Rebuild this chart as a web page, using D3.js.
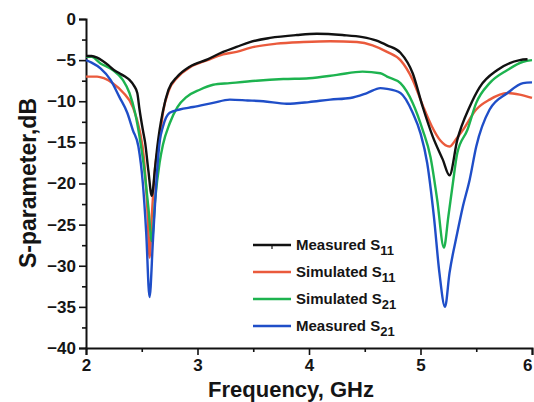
<!DOCTYPE html>
<html><head><meta charset="utf-8">
<script src="https://cdn.jsdelivr.net/npm/d3@7"></script>
<style>body{margin:0;background:#fff}svg{display:block}text{font-family:"Liberation Sans",Arial,sans-serif;font-weight:bold;fill:#151515}</style>
</head><body><div id="c"></div>
<script>
const xTicks=[2,3,4,5,6];
const yTicks=[-40,-35,-30,-25,-20,-15,-10,-5,0];
const measS11=[[2.0,-4.5],[2.05,-4.5],[2.1,-4.7],[2.15,-5.1],[2.2,-5.6],[2.25,-6.2],[2.3,-6.6],[2.35,-7.0],[2.39,-7.4],[2.43,-8.1],[2.46,-9.0],[2.48,-11],[2.51,-13.5],[2.53,-15],[2.56,-18.5],[2.59,-21.5],[2.62,-18],[2.64,-15.5],[2.66,-13.5],[2.69,-11.2],[2.74,-8.6],[2.82,-7.0],[2.93,-5.8],[3.09,-4.9],[3.23,-4.0],[3.35,-3.4],[3.47,-2.8],[3.65,-2.3],[3.89,-1.95],[4.07,-1.8],[4.3,-1.95],[4.48,-2.2],[4.6,-2.6],[4.7,-3.2],[4.82,-4.1],[4.93,-6.6],[5.02,-10.7],[5.11,-14.3],[5.2,-17.1],[5.26,-19],[5.33,-14.7],[5.44,-10.7],[5.53,-8.3],[5.69,-6.2],[5.89,-5.0],[5.96,-4.9]];
const simS11=[[2.0,-7.0],[2.1,-7.0],[2.16,-7.2],[2.24,-7.8],[2.33,-8.9],[2.42,-10.7],[2.48,-13.5],[2.52,-17],[2.55,-23],[2.57,-29],[2.59,-24],[2.62,-18],[2.66,-14.7],[2.69,-11.4],[2.74,-8.8],[2.82,-7.1],[2.93,-5.9],[3.09,-5.0],[3.23,-4.3],[3.35,-4.0],[3.47,-3.5],[3.71,-3.0],[3.95,-2.8],[4.19,-2.7],[4.43,-2.8],[4.57,-3.2],[4.7,-4.0],[4.82,-5.0],[4.93,-7.4],[5.02,-10.5],[5.1,-13],[5.18,-14.8],[5.26,-15.5],[5.32,-14.6],[5.38,-13.5],[5.5,-11],[5.62,-9.8],[5.78,-9.0],[5.89,-9.2],[6.0,-9.6]];
const simS21=[[2.0,-4.6],[2.05,-4.6],[2.13,-5.4],[2.24,-6.2],[2.33,-7.4],[2.39,-9],[2.44,-11.4],[2.48,-14.3],[2.52,-18],[2.56,-23],[2.59,-27],[2.62,-22],[2.66,-17.5],[2.69,-15.3],[2.75,-12.7],[2.82,-10.7],[2.9,-9.5],[3.02,-8.6],[3.14,-8.0],[3.29,-7.8],[3.53,-7.5],[3.77,-7.3],[4.0,-7.2],[4.25,-6.8],[4.48,-6.4],[4.64,-6.6],[4.7,-7.0],[4.82,-7.8],[4.93,-10.2],[5.02,-13.5],[5.09,-16.8],[5.15,-22],[5.21,-27.8],[5.25,-24],[5.29,-20],[5.33,-16.3],[5.42,-13.5],[5.5,-10.2],[5.62,-7.8],[5.78,-6.2],[5.92,-5.2],[6.0,-5.0]];
const measS21=[[2.0,-5.0],[2.05,-5.3],[2.13,-6.0],[2.22,-7.4],[2.3,-9.5],[2.37,-11.4],[2.42,-13.5],[2.47,-15.5],[2.51,-20],[2.54,-26],[2.57,-33.8],[2.6,-27],[2.63,-20],[2.66,-15],[2.69,-13.1],[2.75,-11.4],[2.84,-11],[2.96,-10.7],[3.14,-10.2],[3.29,-9.8],[3.45,-9.9],[3.59,-10.0],[3.8,-10.3],[4.0,-10.1],[4.19,-9.8],[4.37,-9.6],[4.52,-9.0],[4.64,-8.4],[4.7,-8.5],[4.82,-9.0],[4.93,-11.4],[5.0,-13.9],[5.06,-17.5],[5.12,-24],[5.17,-30.9],[5.22,-35],[5.26,-30.9],[5.33,-26],[5.38,-22.8],[5.44,-19.6],[5.5,-15.5],[5.62,-11],[5.78,-9.0],[5.92,-7.8],[6.0,-7.7]];
const legendNames=["Measured S","Simulated S","Simulated S","Measured S"];
const legendSubs=["11","11","21","21"];
const colors=["#111111","#ea5a3c","#1db34f","#1f4ec8"];
const seriesData=[measS11,simS11,simS21,measS21];

const W=534,H=402;
const svg=d3.select("#c").append("svg").attr("width",W).attr("height",H);
const x=d3.scaleLinear().domain([2,6]).range([86,532]);
const y=d3.scaleLinear().domain([-40,0]).range([348,19]);

// axes
const gx=svg.append("g").attr("transform","translate(0,348)")
 .call(d3.axisBottom(x).tickValues(xTicks).tickSize(7).tickPadding(4).tickFormat(d3.format("d")));
const gxm=svg.append("g").attr("transform","translate(0,348)")
 .call(d3.axisBottom(x).tickValues(d3.range(2.5,6,1)).tickSize(4).tickFormat(""));
const gy=svg.append("g").attr("transform","translate(86,0)")
 .call(d3.axisLeft(y).tickValues(yTicks).tickSize(7).tickPadding(3).tickFormat(d3.format("d")));
const gym=svg.append("g").attr("transform","translate(86,0)")
 .call(d3.axisLeft(y).tickValues(d3.range(-37.5,0,5)).tickSize(4).tickFormat(""));
[gx,gxm,gy,gym].forEach(g=>{g.select(".domain").attr("stroke","#111").attr("stroke-width",2);
 g.selectAll(".tick line").attr("stroke","#111").attr("stroke-width",1.6);
 g.selectAll("text").attr("font-size",17).attr("font-family","Liberation Sans, Arial, sans-serif").attr("font-weight","bold").attr("fill","#151515");});
gxm.select(".domain").remove();gym.select(".domain").remove();
gx.selectAll(".tick text").filter(d=>d===6).attr("text-anchor","end").attr("dx",0);

// lines
const line=d3.line().x(d=>x(d[0])).y(d=>y(d[1])).curve(d3.curveMonotoneX);
const order=[1,2,0,3];
order.forEach(i=>{svg.append("path").datum(seriesData[i]).attr("d",line)
 .attr("fill","none").attr("stroke",colors[i]).attr("stroke-width",2.4).attr("stroke-linejoin","round");});

// legend
const lg=svg.append("g");
legendNames.forEach((n,i)=>{const yy=245+i*27;
 lg.append("line").attr("x1",253).attr("x2",291).attr("y1",yy).attr("y2",yy).attr("stroke",colors[i]).attr("stroke-width",2.4);
 const t=lg.append("text").attr("x",296).attr("y",yy+5).attr("font-size",15);
 t.append("tspan").text(n);
 t.append("tspan").attr("dy",5).attr("font-size",13).text(legendSubs[i]);
});
lg.append("line").attr("x1",272).attr("x2",272).attr("y1",245).attr("y2",249).attr("stroke","#111").attr("stroke-width",1.2);

// titles
svg.append("text").attr("x",291).attr("y",397).attr("text-anchor","middle").attr("font-size",22).text("Frequency, GHz");
svg.append("text").attr("transform","translate(36,183) rotate(-90)").attr("text-anchor","middle").attr("font-size",23).text("S-parameter,dB");
</script></body></html>
